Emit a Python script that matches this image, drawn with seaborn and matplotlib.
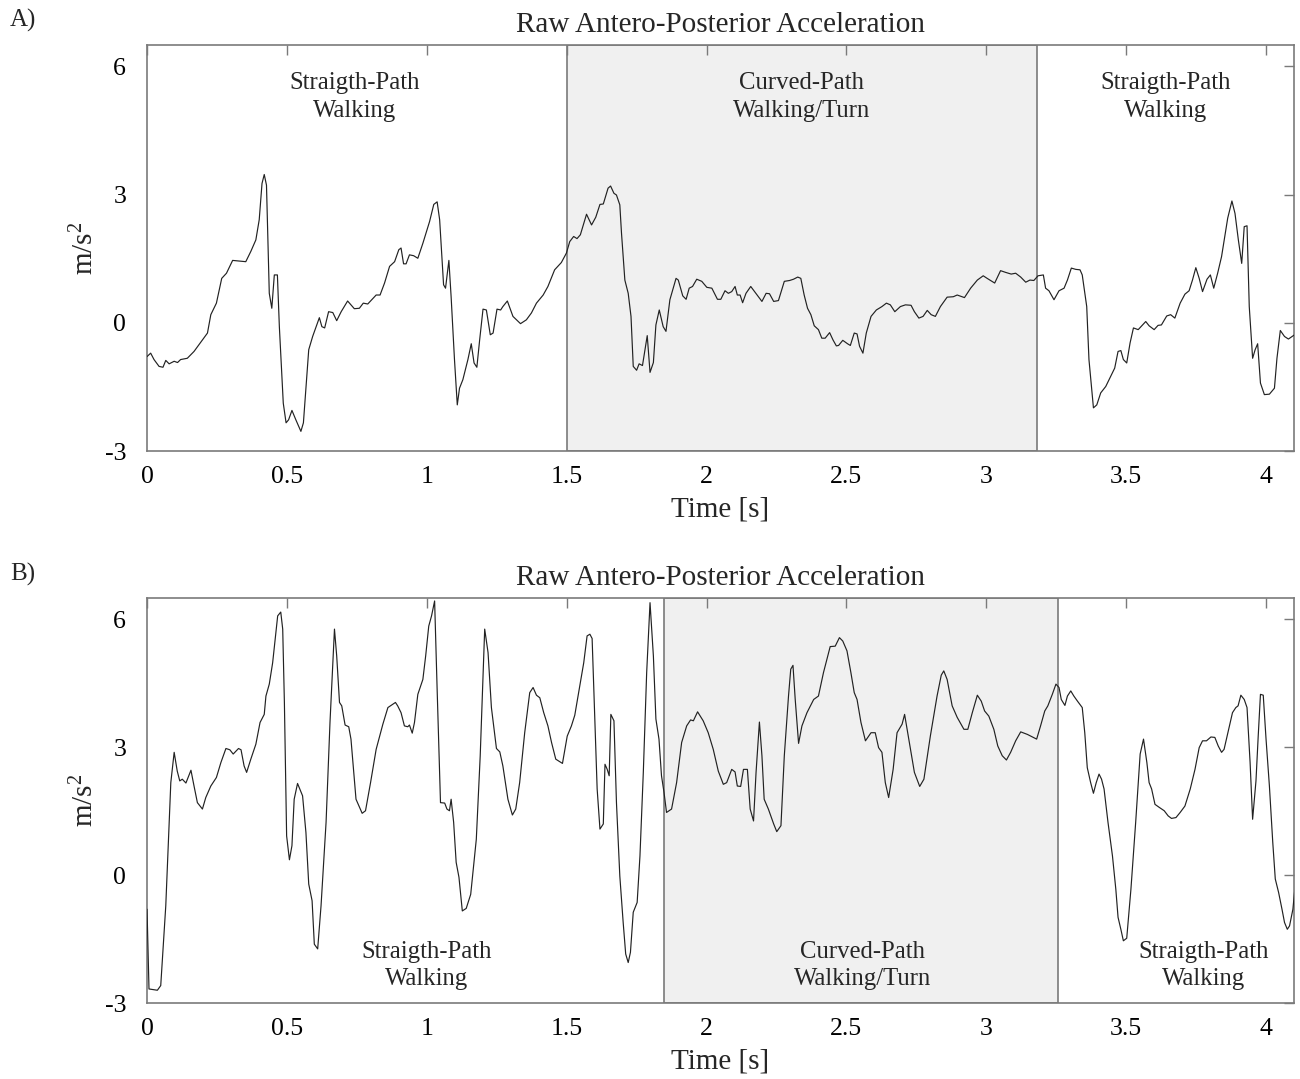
import numpy as np
import pandas as pd
import matplotlib
matplotlib.use("Agg")
import matplotlib.pyplot as plt
import seaborn as sns

# ---- Panel A: raw antero-posterior acceleration (m/s^2) vs time (s) ----
time_a = [
    0.000, 0.013, 0.025, 0.043, 0.057, 0.067, 0.079, 0.097, 0.109, 0.120,
    0.144, 0.168, 0.198, 0.216, 0.228, 0.248, 0.267, 0.284, 0.306, 0.353,
    0.371, 0.389, 0.401, 0.411, 0.419, 0.427, 0.437, 0.446, 0.455, 0.466,
    0.473, 0.487, 0.497, 0.506, 0.518, 0.532, 0.550, 0.559, 0.578, 0.592,
    0.616, 0.625, 0.635, 0.649, 0.664, 0.678, 0.694, 0.717, 0.741, 0.759,
    0.773, 0.789, 0.819, 0.833, 0.849, 0.867, 0.885, 0.900, 0.908, 0.917,
    0.926, 0.938, 0.953, 0.968, 0.986, 1.010, 1.025, 1.037, 1.046, 1.060,
    1.067, 1.079, 1.087, 1.099, 1.109, 1.117, 1.129, 1.147, 1.159, 1.169,
    1.179, 1.189, 1.201, 1.213, 1.227, 1.237, 1.251, 1.264, 1.272, 1.288,
    1.308, 1.335, 1.356, 1.374, 1.392, 1.416, 1.433, 1.457, 1.481, 1.499,
    1.511, 1.525, 1.537, 1.549, 1.571, 1.589, 1.604, 1.619, 1.631, 1.648,
    1.657, 1.669, 1.678, 1.690, 1.696, 1.708, 1.720, 1.730, 1.738, 1.750,
    1.759, 1.771, 1.788, 1.798, 1.810, 1.819, 1.831, 1.845, 1.855, 1.869,
    1.891, 1.899, 1.915, 1.927, 1.938, 1.950, 1.965, 1.983, 2.001, 2.019,
    2.039, 2.051, 2.066, 2.078, 2.090, 2.102, 2.110, 2.120, 2.129, 2.141,
    2.158, 2.174, 2.198, 2.213, 2.225, 2.240, 2.257, 2.278, 2.297, 2.311,
    2.326, 2.337, 2.349, 2.361, 2.373, 2.385, 2.400, 2.412, 2.424, 2.440,
    2.452, 2.464, 2.472, 2.487, 2.504, 2.514, 2.528, 2.538, 2.547, 2.559,
    2.571, 2.588, 2.607, 2.627, 2.643, 2.657, 2.673, 2.693, 2.711, 2.731,
    2.743, 2.759, 2.774, 2.789, 2.803, 2.818, 2.836, 2.860, 2.882, 2.896,
    2.922, 2.944, 2.968, 2.989, 3.003, 3.030, 3.051, 3.069, 3.089, 3.105,
    3.123, 3.141, 3.156, 3.170, 3.185, 3.204, 3.212, 3.224, 3.242, 3.260,
    3.278, 3.290, 3.304, 3.320, 3.335, 3.343, 3.359, 3.367, 3.383, 3.395,
    3.409, 3.427, 3.445, 3.459, 3.471, 3.481, 3.490, 3.502, 3.514, 3.526,
    3.543, 3.570, 3.582, 3.600, 3.614, 3.626, 3.645, 3.659, 3.674, 3.693,
    3.710, 3.725, 3.737, 3.749, 3.761, 3.773, 3.789, 3.801, 3.813, 3.827,
    3.841, 3.863, 3.878, 3.889, 3.901, 3.913, 3.922, 3.932, 3.940, 3.952,
    3.961, 3.970, 3.980, 3.994, 4.012, 4.030, 4.039, 4.051, 4.066, 4.080,
    4.102,
]
accel_a = [
    -0.79, -0.71, -0.86, -1.02, -1.04, -0.88, -0.96, -0.90, -0.93, -0.86,
    -0.83, -0.67, -0.40, -0.24, 0.19, 0.46, 1.04, 1.16, 1.46, 1.43,
    1.67, 1.94, 2.41, 3.26, 3.47, 3.22, 0.69, 0.34, 1.12, 1.12,
    -0.09, -1.88, -2.34, -2.27, -2.05, -2.27, -2.54, -2.34, -0.63, -0.32,
    0.12, -0.09, -0.12, 0.26, 0.24, 0.05, 0.26, 0.51, 0.33, 0.34,
    0.46, 0.44, 0.65, 0.65, 0.93, 1.32, 1.43, 1.71, 1.75, 1.38,
    1.38, 1.59, 1.57, 1.51, 1.86, 2.37, 2.77, 2.83, 2.41, 0.89,
    0.81, 1.46, 0.61, -0.86, -1.92, -1.53, -1.33, -0.86, -0.49, -0.94,
    -1.04, -0.40, 0.32, 0.30, -0.28, -0.24, 0.32, 0.30, 0.38, 0.51,
    0.15, -0.02, 0.07, 0.23, 0.46, 0.65, 0.85, 1.24, 1.41, 1.63,
    1.90, 2.02, 1.97, 2.06, 2.54, 2.29, 2.47, 2.77, 2.78, 3.15,
    3.20, 3.03, 2.99, 2.76, 2.10, 1.00, 0.69, 0.15, -1.02, -1.11,
    -0.96, -1.00, -0.30, -1.16, -0.93, -0.05, 0.30, -0.09, -0.20, 0.54,
    1.04, 1.00, 0.63, 0.55, 0.81, 0.85, 1.02, 0.97, 0.83, 0.81,
    0.55, 0.55, 0.75, 0.69, 0.73, 0.85, 0.65, 0.65, 0.47, 0.69,
    0.85, 0.71, 0.50, 0.69, 0.68, 0.50, 0.52, 0.97, 0.99, 1.02,
    1.07, 1.04, 0.65, 0.34, 0.19, -0.07, -0.16, -0.36, -0.36, -0.23,
    -0.40, -0.54, -0.53, -0.41, -0.49, -0.53, -0.24, -0.26, -0.55, -0.71,
    -0.24, 0.15, 0.30, 0.38, 0.46, 0.42, 0.26, 0.38, 0.42, 0.41,
    0.26, 0.11, 0.15, 0.29, 0.19, 0.15, 0.38, 0.60, 0.61, 0.65,
    0.59, 0.81, 1.00, 1.10, 1.04, 0.93, 1.22, 1.18, 1.14, 1.16,
    1.07, 0.95, 1.00, 0.99, 1.10, 1.12, 0.81, 0.75, 0.54, 0.75,
    0.81, 1.00, 1.28, 1.25, 1.24, 1.12, 0.38, -0.86, -1.99, -1.92,
    -1.64, -1.49, -1.25, -1.06, -0.67, -0.65, -0.86, -0.94, -0.47, -0.12,
    -0.16, 0.03, -0.07, -0.16, -0.06, -0.05, 0.16, 0.19, 0.11, 0.46,
    0.67, 0.75, 1.00, 1.29, 1.04, 0.73, 1.02, 1.12, 0.81, 1.16,
    1.55, 2.45, 2.85, 2.56, 1.94, 1.39, 2.25, 2.27, 0.38, -0.83,
    -0.63, -0.49, -1.41, -1.68, -1.67, -1.53, -0.83, -0.18, -0.32, -0.38,
    -0.28,
]

# ---- Panel B ----
time_b = [
    0.000, 0.007, 0.037, 0.049, 0.067, 0.085, 0.097, 0.108, 0.117, 0.126,
    0.139, 0.157, 0.168, 0.180, 0.198, 0.210, 0.228, 0.248, 0.264, 0.282,
    0.296, 0.308, 0.327, 0.336, 0.347, 0.356, 0.371, 0.389, 0.404, 0.419,
    0.425, 0.437, 0.449, 0.467, 0.478, 0.485, 0.491, 0.499, 0.509, 0.518,
    0.526, 0.538, 0.556, 0.568, 0.578, 0.590, 0.598, 0.610, 0.622, 0.640,
    0.654, 0.670, 0.678, 0.688, 0.696, 0.708, 0.721, 0.729, 0.747, 0.769,
    0.781, 0.799, 0.819, 0.843, 0.861, 0.888, 0.896, 0.908, 0.920, 0.932,
    0.938, 0.948, 0.956, 0.968, 0.986, 0.996, 1.007, 1.017, 1.028, 1.037,
    1.049, 1.064, 1.072, 1.081, 1.087, 1.096, 1.105, 1.115, 1.127, 1.141,
    1.157, 1.177, 1.191, 1.207, 1.219, 1.231, 1.249, 1.261, 1.272, 1.290,
    1.306, 1.318, 1.332, 1.350, 1.368, 1.380, 1.392, 1.404, 1.418, 1.433,
    1.446, 1.461, 1.485, 1.502, 1.517, 1.529, 1.547, 1.561, 1.573, 1.583,
    1.591, 1.601, 1.609, 1.619, 1.631, 1.637, 1.645, 1.652, 1.658, 1.669,
    1.678, 1.690, 1.702, 1.711, 1.720, 1.728, 1.738, 1.752, 1.762, 1.774,
    1.786, 1.798, 1.810, 1.819, 1.830, 1.839, 1.848, 1.857, 1.875, 1.893,
    1.911, 1.929, 1.943, 1.953, 1.968, 1.988, 2.006, 2.024, 2.042, 2.060,
    2.072, 2.090, 2.102, 2.110, 2.122, 2.132, 2.146, 2.156, 2.168, 2.177,
    2.189, 2.198, 2.206, 2.221, 2.240, 2.251, 2.266, 2.278, 2.293, 2.301,
    2.309, 2.317, 2.329, 2.341, 2.359, 2.383, 2.400, 2.418, 2.442, 2.460,
    2.475, 2.487, 2.502, 2.516, 2.528, 2.538, 2.552, 2.568, 2.588, 2.603,
    2.615, 2.627, 2.639, 2.651, 2.667, 2.681, 2.699, 2.708, 2.723, 2.743,
    2.762, 2.777, 2.800, 2.824, 2.839, 2.848, 2.860, 2.878, 2.896, 2.920,
    2.934, 2.950, 2.968, 2.982, 2.994, 3.009, 3.027, 3.041, 3.057, 3.072,
    3.087, 3.105, 3.123, 3.147, 3.180, 3.194, 3.209, 3.220, 3.236, 3.249,
    3.260, 3.268, 3.281, 3.290, 3.302, 3.313, 3.326, 3.343, 3.352, 3.361,
    3.373, 3.383, 3.393, 3.403, 3.412, 3.421, 3.435, 3.451, 3.463, 3.471,
    3.481, 3.490, 3.502, 3.517, 3.534, 3.550, 3.562, 3.574, 3.582, 3.591,
    3.603, 3.618, 3.636, 3.650, 3.662, 3.678, 3.693, 3.710, 3.729, 3.746,
    3.761, 3.773, 3.787, 3.803, 3.817, 3.829, 3.841, 3.850, 3.865, 3.880,
    3.892, 3.900, 3.910, 3.922, 3.932, 3.943, 3.952, 3.964, 3.972, 3.980,
    3.990, 4.000, 4.012, 4.024, 4.033, 4.045, 4.057, 4.066, 4.076, 4.084,
    4.096, 4.104,
]
accel_b = [
    -0.80, -2.67, -2.70, -2.59, -0.72, 2.17, 2.88, 2.44, 2.21, 2.25,
    2.16, 2.46, 2.09, 1.70, 1.55, 1.82, 2.09, 2.29, 2.64, 2.97,
    2.94, 2.84, 2.97, 2.94, 2.56, 2.41, 2.72, 3.07, 3.58, 3.77,
    4.20, 4.48, 4.98, 6.08, 6.17, 5.77, 4.05, 0.92, 0.36, 0.69,
    1.78, 2.15, 1.86, 1.00, -0.21, -0.60, -1.62, -1.73, -0.72, 1.24,
    3.58, 5.77, 5.14, 4.05, 3.97, 3.52, 3.48, 3.19, 1.78, 1.45,
    1.51, 2.17, 2.95, 3.54, 3.93, 4.05, 3.97, 3.81, 3.50, 3.48,
    3.52, 3.33, 3.58, 4.24, 4.59, 5.14, 5.84, 6.08, 6.43, 4.36,
    1.70, 1.69, 1.55, 1.51, 1.78, 1.24, 0.30, -0.05, -0.84, -0.78,
    -0.45, 0.84, 2.80, 5.77, 5.22, 3.93, 2.97, 2.89, 2.56, 1.78,
    1.41, 1.55, 2.17, 3.34, 4.28, 4.40, 4.22, 4.16, 3.81, 3.50,
    3.11, 2.72, 2.62, 3.26, 3.50, 3.75, 4.44, 4.98, 5.61, 5.65,
    5.55, 3.58, 2.02, 1.08, 1.20, 2.60, 2.48, 2.33, 3.77, 3.62,
    1.70, -0.02, -1.11, -1.85, -2.05, -1.81, -0.87, -0.64, 0.45, 2.41,
    4.75, 6.39, 5.14, 3.66, 3.19, 2.33, 1.94, 1.47, 1.55, 2.17,
    3.11, 3.50, 3.64, 3.62, 3.83, 3.62, 3.34, 2.95, 2.44, 2.13,
    2.17, 2.48, 2.42, 2.09, 2.08, 2.48, 2.48, 1.55, 1.27, 2.41,
    3.59, 2.80, 1.78, 1.55, 1.20, 1.02, 1.16, 2.80, 4.20, 4.83,
    4.92, 4.12, 3.09, 3.50, 3.81, 4.12, 4.20, 4.75, 5.36, 5.37,
    5.57, 5.49, 5.26, 4.75, 4.28, 4.12, 3.58, 3.15, 3.34, 3.34,
    2.99, 2.88, 2.17, 1.82, 2.48, 3.34, 3.54, 3.77, 3.19, 2.41,
    2.08, 2.25, 3.26, 4.20, 4.69, 4.79, 4.59, 3.97, 3.70, 3.42,
    3.42, 3.81, 4.22, 4.08, 3.85, 3.73, 3.42, 3.03, 2.80, 2.70,
    2.88, 3.15, 3.36, 3.30, 3.19, 3.50, 3.85, 3.97, 4.24, 4.48,
    4.40, 4.12, 3.98, 4.20, 4.32, 4.20, 4.08, 3.93, 3.34, 2.52,
    2.17, 1.92, 2.17, 2.37, 2.25, 2.02, 1.24, 0.45, -0.33, -0.99,
    -1.27, -1.54, -1.48, -0.33, 1.24, 2.84, 3.19, 2.64, 2.17, 2.02,
    1.66, 1.59, 1.51, 1.39, 1.33, 1.35, 1.47, 1.62, 2.02, 2.48,
    2.99, 3.15, 3.15, 3.24, 3.23, 3.03, 2.88, 2.95, 3.38, 3.81,
    3.93, 3.97, 4.22, 4.12, 3.93, 2.64, 1.31, 2.21, 3.26, 4.24,
    4.22, 3.19, 2.09, 0.77, -0.09, -0.41, -0.80, -1.11, -1.27, -1.19,
    -0.80, -0.25,
]

# Curved-path / turn interval (start, end) in seconds
turn_a = (1.5, 3.183)
turn_b = (1.848, 3.255)

panel_titles = ["Raw Antero-Posterior Acceleration", "Raw Antero-Posterior Acceleration"]
panel_tags = ["A)", "B)"]
straight_label = "Straigth-Path\nWalking"
curved_label = "Curved-Path\nWalking/Turn"
x_ticks = [0, 0.5, 1, 1.5, 2, 2.5, 3, 3.5, 4]
x_tick_labels = ["0", "0.5", "1", "1.5", "2", "2.5", "3", "3.5", "4"]
y_ticks = [-3, 0, 3, 6]
y_tick_labels = ["-3", "0", "3", "6"]

sns.set_theme(style="white")
plt.rcParams["font.family"] = ["Liberation Serif", "DejaVu Serif"]
plt.rcParams["mathtext.fontset"] = "custom"
plt.rcParams["mathtext.rm"] = "Liberation Serif"
plt.rcParams["mathtext.it"] = "Liberation Serif:italic"
plt.rcParams["mathtext.bf"] = "Liberation Serif:bold"

fig = plt.figure(figsize=(13.0, 10.79), dpi=100)
ax_a = fig.add_axes([0.1131, 0.5820, 0.8823, 0.3763])
ax_b = fig.add_axes([0.1131, 0.0704, 0.8823, 0.3754])

spine_gray = "#7a7a7a"
line_color = "#222222"
shade_color = "#f0f0f0"

panels = [
    (ax_a, time_a, accel_a, turn_a, 5.28,
     [(0.741, straight_label), (2.338, curved_label), (3.642, straight_label)]),
    (ax_b, time_b, accel_b, turn_b, -2.12,
     [(0.999, straight_label), (2.557, curved_label), (3.778, straight_label)]),
]

for i, (ax, t, a, turn, label_y, labels) in enumerate(panels):
    df = pd.DataFrame({"t": t, "a": a})
    ax.axvspan(turn[0], turn[1], facecolor=shade_color, edgecolor=spine_gray,
               linewidth=1.2, zorder=0)
    sns.lineplot(data=df, x="t", y="a", ax=ax, color=line_color, linewidth=0.85,
                 estimator=None, sort=False, zorder=3)
    ax.set_xlim(0, 4.1)
    ax.set_ylim(-3, 6.5)
    ax.set_xticks(x_ticks)
    ax.set_xticklabels(x_tick_labels)
    ax.set_yticks(y_ticks)
    ax.set_yticklabels(y_tick_labels)
    ax.tick_params(axis="both", direction="in", length=7.5, width=1.0,
                   color=spine_gray, labelsize=18.5, labelcolor="black",
                   top=True, right=True)
    ax.tick_params(axis="x", pad=11)
    ax.tick_params(axis="y", pad=15)
    for sp in ax.spines.values():
        sp.set_color(spine_gray)
        sp.set_linewidth(1.2)
        sp.set_visible(True)
    ax.set_xlabel("Time [s]", fontsize=21, labelpad=6)
    ax.set_ylabel("m/s$^2$", fontsize=21, labelpad=4)
    ax.set_title(panel_titles[i], fontsize=21, pad=9.5)
    ax.set_facecolor("white")
    for x, txt in labels:
        ax.text(x, label_y, txt, ha="center", va="center", fontsize=17.8,
                linespacing=1.35, zorder=4)
    ax.grid(False)

fig.text(0.0077, 0.9815, panel_tags[0], fontsize=18, ha="left", va="center")
fig.text(0.0077, 0.4675, panel_tags[1], fontsize=18, ha="left", va="center")

fig.savefig("out.png", dpi=100, facecolor="white")
